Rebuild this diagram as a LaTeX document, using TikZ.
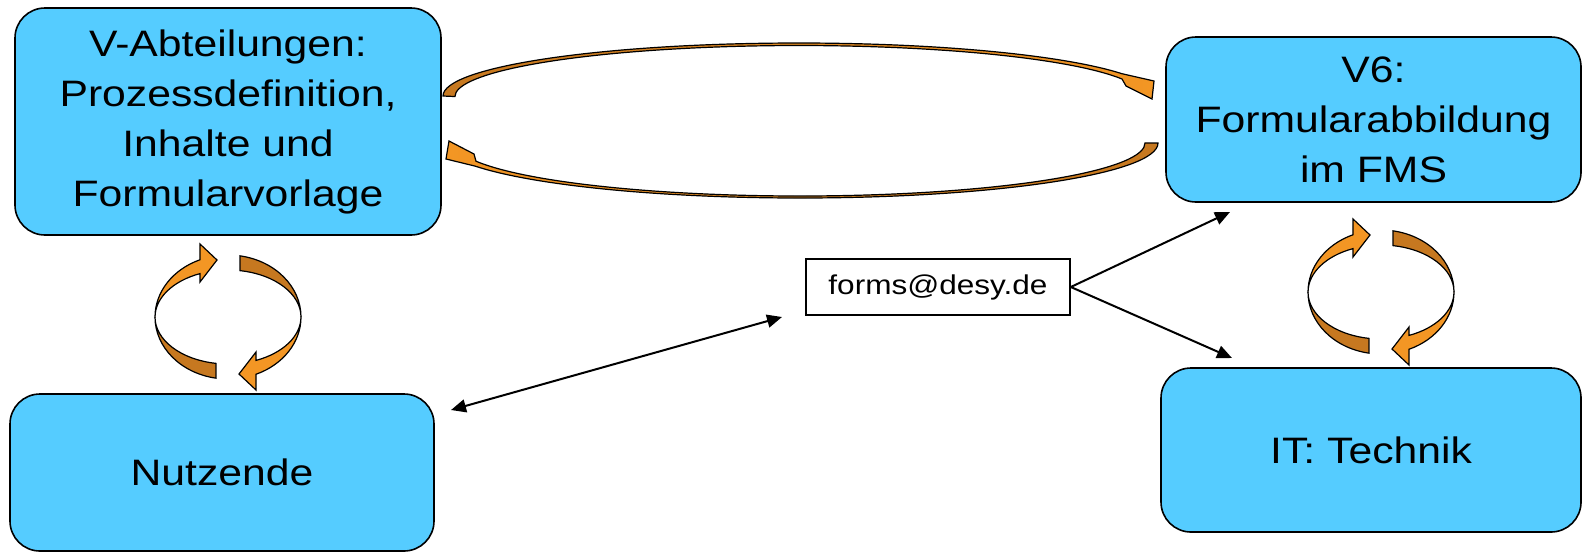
\documentclass[tikz,border=0pt]{standalone}
\usepackage{fontspec}
\setmainfont{Liberation Sans}[FakeStretch=1.16]
\usetikzlibrary{arrows.meta}
\definecolor{boxblue}{RGB}{85,204,255}
\definecolor{lightor}{RGB}{243,150,36}
\definecolor{darkor}{RGB}{198,120,32}
\tikzset{
  bluebox/.style={draw=black, line width=0.8pt, fill=boxblue, rounded corners=15pt, align=center,
    font=\fontsize{18.4pt}{25pt}\selectfont, inner sep=0pt},
  mailbox/.style={draw=black, line width=0.8pt, fill=white, font=\fontsize{13.6pt}{16pt}\selectfont,
    minimum width=132pt, minimum height=28pt, inner sep=0pt},
  conn/.style={line width=1pt, draw=black},
  tip/.style={-{Triangle[length=7.5pt,width=6.5pt]}},
  bandline/.style={draw=black, line width=0.6pt},
  pics/cyc/.style={code={
    \filldraw[bandline, fill=darkor] (-12.05,61.15) arc[start angle=99.5,end angle=180,x radius=73,y radius=62]
      arc[start angle=180,end angle=99.5,x radius=73,y radius=47] -- cycle;
    \filldraw[bandline, fill=lightor] (-73,0) arc[start angle=180,end angle=247.4,x radius=73,y radius=62]
      -- (-28,-73) -- (-11,-57) -- (-28,-35) -- (-28,-43.4)
      arc[start angle=247.4,end angle=180,x radius=73,y radius=47] -- cycle;
    \filldraw[bandline, fill=darkor] (12.05,-61.15) arc[start angle=279.5,end angle=360,x radius=73,y radius=62]
      arc[start angle=360,end angle=279.5,x radius=73,y radius=47] -- cycle;
    \filldraw[bandline, fill=lightor] (73,0) arc[start angle=0,end angle=67.4,x radius=73,y radius=62]
      -- (28,73) -- (11,57) -- (28,35) -- (28,43.4)
      arc[start angle=67.4,end angle=0,x radius=73,y radius=47] -- cycle;
  }}
}
\begin{document}
\begin{tikzpicture}[x=0.5pt,y=-0.5pt]
\useasboundingbox[fill=white] (0,0) rectangle (1583,553);

% boxes
\node[bluebox, minimum width=213pt, minimum height=113.5pt] (va) at (228,121.5)
  {V-Abteilungen:\\Prozessdefinition,\\Inhalte und\\Formularvorlage};
\node[bluebox, minimum width=207.5pt, minimum height=82.5pt] (v6) at (1373.5,119.5)
  {V6:\\Formularabbildung\\im FMS};
\node[bluebox, minimum width=212pt, minimum height=78.5pt] (nu) at (222,472.5) {Nutzende};
\node[bluebox, minimum width=210pt, minimum height=82pt] (it) at (1371,450) {IT: Technik};
\node[mailbox] (forms) at (938,287) {forms@desy.de};

% connectors
\coordinate (nuend) at (451,410);
\coordinate (formsend) at (782,317);
\coordinate (v6end) at (1230,212);
\coordinate (itend) at (1232,358);
\draw[conn, {Triangle[length=7.5pt,width=6.5pt]}-{Triangle[length=7.5pt,width=6.5pt]}] (nuend) -- (formsend);
\draw[conn, tip] (forms.east) -- (v6end);
\draw[conn, tip] (forms.east) -- (itend);

% big curved arrows between top boxes
\path[bandline, left color=darkor, right color=lightor]
  (443,96) arc[start angle=180, end angle=335.1, x radius=356, y radius=53]
  -- (1154,81) -- (1152,99) -- (1126,86) -- (1122,79)
  arc[start angle=339.9, end angle=180, x radius=344, y radius=51] -- cycle;
\path[bandline, left color=lightor, right color=darkor]
  (1158,143) arc[start angle=0, end angle=155.1, x radius=358, y radius=55]
  -- (446,159) -- (449,141) -- (474,154) -- (476,161.2)
  arc[start angle=159.9, end angle=0, x radius=345, y radius=53] -- cycle;

% cycle arrows
\pic at (228,317) {cyc};
\pic at (1381,292) {cyc};
\end{tikzpicture}
\end{document}
